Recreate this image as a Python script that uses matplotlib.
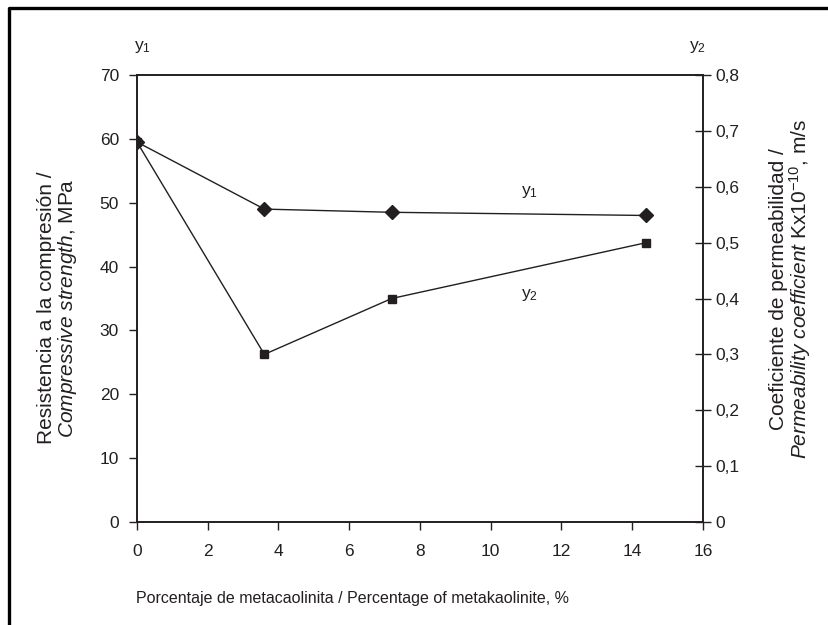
import matplotlib
matplotlib.use("Agg")
import matplotlib.pyplot as plt
from matplotlib.lines import Line2D

plt.rcParams['font.family'] = ['Liberation Sans', 'DejaVu Sans']
plt.rcParams['mathtext.fontset'] = 'custom'
plt.rcParams['mathtext.rm'] = 'Liberation Sans'
plt.rcParams['mathtext.it'] = 'Liberation Sans:italic'

# data
metakaolinite = [0, 3.6, 7.2, 14.4]
strength = [59.5, 49.0, 48.5, 48.0]          # y1, MPa
permeability = [0.68, 0.30, 0.40, 0.50]      # y2, Kx10^-10 m/s
x_ticks = [0, 2, 4, 6, 8, 10, 12, 14, 16]
y1_ticks = [0, 10, 20, 30, 40, 50, 60, 70]
y2_ticks = [0, 0.1, 0.2, 0.3, 0.4, 0.5, 0.6, 0.7, 0.8]

ink = '#231f20'
fs = 12.5

fig = plt.figure(figsize=(8.29, 6.25), dpi=100)
ax = fig.add_axes([137 / 829, 1 - 522 / 625, 566 / 829, 447 / 625])
ax2 = ax.twinx()

# left axis: compressive strength
ax.plot(metakaolinite, strength, color=ink, lw=1.0, marker='D', ms=7,
        mfc=ink, mec=ink, zorder=3)
ax.set_xlim(0, 16)
ax.set_ylim(0, 70)
ax.set_xticks(x_ticks)
ax.set_yticks(y1_ticks)
ax.tick_params(axis='both', direction='out', length=6, width=1, color=ink,
               labelcolor=ink, labelsize=fs)
ax.tick_params(axis='y', pad=7)
ax.tick_params(axis='x', pad=10)

# right axis: permeability
ax2.plot(metakaolinite, permeability, color=ink, lw=1.0, marker='s', ms=6,
         mfc=ink, mec=ink, zorder=3)
ax2.set_ylim(0, 0.8)
ax2.set_yticks(y2_ticks)
ax2.set_yticklabels([('%g' % v).replace('.', ',') for v in y2_ticks])
ax2.tick_params(axis='y', direction='inout', length=12, width=1, color=ink,
                labelcolor=ink, labelsize=fs, pad=3)

for a in (ax, ax2):
    for sp in a.spines.values():
        sp.set_color(ink)
        sp.set_linewidth(1.2)

# x title sits left-aligned with the plot in the original
fig.text(136 / 829, 1 - 598 / 625,
         'Porcentaje de metacaolinita / Percentage of metakaolinite, %',
         fontsize=11.5, color=ink, ha='left', va='center')

# rotated axis titles (the scan stretches them vertically, so a bit larger)
fig.text(58 / 829, 1 - 308 / 625,
         'Resistencia a la compresión /\n'
         r'$\mathit{Compressive\ strength}$, MPa',
         fontsize=15, color=ink, rotation=90,
         ha='center', va='center', linespacing=1.0)
fig.text(791 / 829, 1 - 289 / 625,
         'Coeficiente de permeabilidad /\n'
         r'$\mathit{Permeability\ coefficient}$ Kx10$^{\mathregular{-10}}$, m/s',
         fontsize=15, color=ink, rotation=90,
         ha='center', va='center', linespacing=1.0)

# series labels
ax.text(0.01, 1.063, r'y$_\mathregular{1}$', transform=ax.transAxes,
        fontsize=fs, color=ink, ha='center', va='center')
ax.text(0.99, 1.063, r'y$_\mathregular{2}$', transform=ax.transAxes,
        fontsize=fs, color=ink, ha='center', va='center')
ax.text(11.1, 51.6, r'y$_\mathregular{1}$', fontsize=fs, color=ink,
        ha='center', va='center')
ax.text(11.1, 35.5, r'y$_\mathregular{2}$', fontsize=fs, color=ink,
        ha='center', va='center')

# outer frame (top and left edges only, as in the scan)
fig.add_artist(Line2D([9 / 829, 9 / 829, 1.0], [0.0, 1 - 8 / 625, 1 - 8 / 625],
                      transform=fig.transFigure, color='black', lw=2.4))

fig.savefig('out.png', dpi=100)
